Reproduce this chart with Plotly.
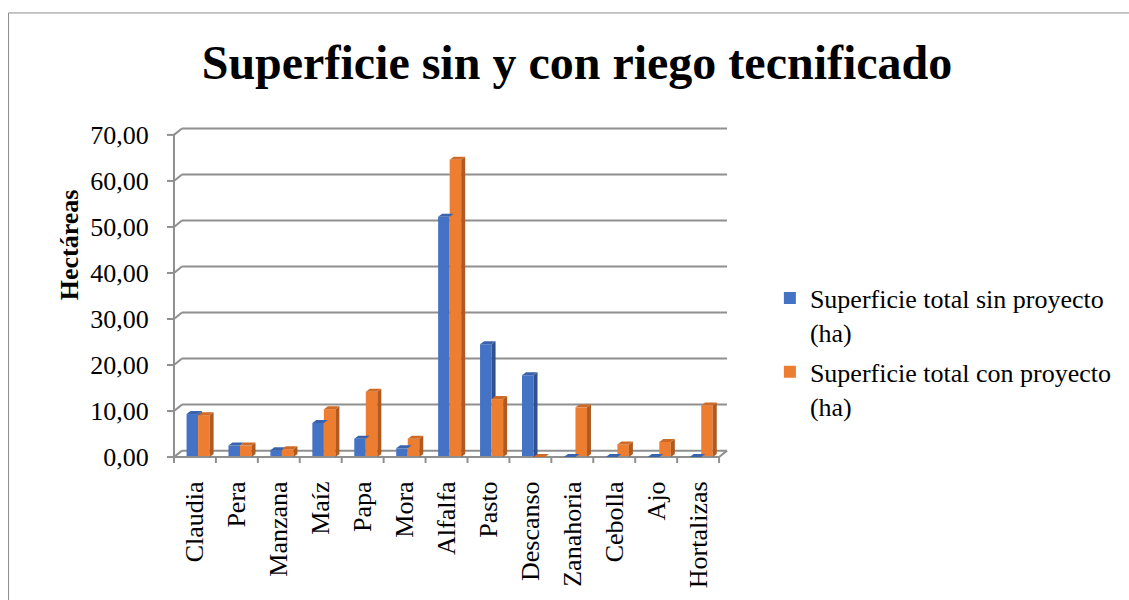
import plotly.graph_objects as go

# ---- data -------------------------------------------------------------
categories = ["Claudia", "Pera", "Manzana", "Maíz", "Papa", "Mora", "Alfalfa",
              "Pasto", "Descanso", "Zanahoria", "Cebolla", "Ajo", "Hortalizas"]
sin_proyecto = [9.35, 2.5, 1.5, 7.4, 4.0, 1.9, 52.2, 24.5, 17.8, 0.0, 0.0, 0.0, 0.0]
con_proyecto = [9.1, 2.5, 1.7, 10.4, 14.2, 4.0, 64.6, 12.6, 0.0, 10.8, 2.75, 3.3, 11.2]
series_names = ["Superficie total sin proyecto<br>(ha)",
                "Superficie total con proyecto<br>(ha)"]
y_tick_values = [0, 10, 20, 30, 40, 50, 60, 70]
y_tick_labels = ["0,00", "10,00", "20,00", "30,00", "40,00", "50,00", "60,00", "70,00"]
title_text = "Superficie sin y con riego tecnificado"
y_title = "Hectáreas"

# ---- geometry (pixels) -----------------------------------------------
W, H = 1129, 600
FONT = "Liberation Serif, Times New Roman, Tinos, serif"
L, R, T, B = 166, 389, 122, 132           # margins
X_FRONT_LEFT, X_FRONT_RIGHT = 174, 721     # px of category -0.5 / n-0.5
Y_ZERO, Y_TOP = 460, 135                   # px of 0 / 70 on the front plane
n = len(categories)
px_per_cat = (X_FRONT_RIGHT - X_FRONT_LEFT) / n
px_per_val = (Y_ZERO - Y_TOP) / y_tick_values[-1]
x_range = [-0.5 - (X_FRONT_LEFT - L) / px_per_cat,
           n - 0.5 + (W - R - X_FRONT_RIGHT) / px_per_cat]
y_range = [-(H - B - Y_ZERO) / px_per_val,
           y_tick_values[-1] + (Y_TOP - T) / px_per_val]

# wall depth and bar depth, in data units
DX, DY = 8 / px_per_cat, 6.5 / px_per_val
BDX, BDY = 4 / px_per_cat, 3 / px_per_val
BAR_W = 0.275
OFFS = [-0.2, 0.075]

GRID = "#8f8f8f"
FRONT = ["#4472C4", "#ED7D31"]
SIDE = ["#2F528F", "#AE5A21"]
TOP = ["#3A63AE", "#D06A27"]


def paper_x(px):
    return (px - L) / (W - L - R)


def paper_y(py):
    return (H - B - py) / (H - T - B)


fig = go.Figure()
xs = list(range(n))
for i, vals in enumerate([sin_proyecto, con_proyecto]):
    fig.add_trace(go.Bar(
        x=xs, y=vals, name=series_names[i], width=BAR_W, offset=OFFS[i],
        legendgroup=f"g{i}",
        marker=dict(color=FRONT[i], line=dict(width=0)),
        hoverinfo="y",
    ))

shapes = []


def line(x0, y0, x1, y1, width=2, color=GRID, layer="below"):
    shapes.append(dict(type="line", xref="x", yref="y", x0=x0, y0=y0, x1=x1, y1=y1,
                       line=dict(color=color, width=width), layer=layer))


# back-wall gridlines with their depth diagonals
for v in y_tick_values:
    line(-0.5, v, -0.5 + DX, v + DY)
    line(-0.5 + DX, v + DY, n - 0.5 + DX, v + DY)
    # tick marks on the front axis
    line(-0.5 - 7 / px_per_cat, v, -0.5, v, layer="above")
# front vertical axis
line(-0.5, 0, -0.5, y_tick_values[-1], layer="above")
# floor: front edge and right depth edge
line(-0.5, 0, n - 0.5, 0, layer="above")
line(n - 0.5, 0, n - 0.5 + DX, DY, layer="above")
# category boundary ticks
for k in range(n + 1):
    line(k - 0.5, 0, k - 0.5, -6 / px_per_val, layer="above")


def poly(pts, color):
    path = "M " + " L ".join(f"{x},{y}" for x, y in pts) + " Z"
    shapes.append(dict(type="path", xref="x", yref="y", path=path,
                       fillcolor=color, line=dict(width=0), layer="above"))


# 3D faces of the columns
for k in range(n):
    vb, vo = sin_proyecto[k], con_proyecto[k]
    # blue column: side visible only above the orange column beside it
    x0 = k + OFFS[0]
    x1 = x0 + BAR_W
    if vb > vo:
        poly([(x1, vo), (x1, vb), (x1 + BDX, vb + BDY), (x1 + BDX, vo)], SIDE[0])
    poly([(x0, vb), (x0 + BDX, vb + BDY), (x1 + BDX, vb + BDY), (x1, vb)], TOP[0])
    # orange column
    x0 = k + OFFS[1]
    x1 = x0 + BAR_W
    poly([(x1, 0), (x1, vo), (x1 + BDX, vo + BDY), (x1 + BDX, BDY)], SIDE[1])
    poly([(x0, vo), (x0 + BDX, vo + BDY), (x1 + BDX, vo + BDY), (x1, vo)], TOP[1])

# outer chart border
shapes.append(dict(type="rect", xref="paper", yref="paper",
                   x0=paper_x(8), y0=paper_y(640), x1=paper_x(1160), y1=paper_y(12),
                   line=dict(color="#8a8a8a", width=1), fillcolor="rgba(0,0,0,0)",
                   layer="below"))

fig.update_layout(
    width=W, height=H,
    margin=dict(l=L, r=R, t=T, b=B, pad=0),
    paper_bgcolor="white", plot_bgcolor="rgba(0,0,0,0)",
    font=dict(family=FONT, size=26, color="black"),
    title=dict(text=f"<b>{title_text}</b>", font=dict(family=FONT, size=48, color="black"),
               xref="container", yref="container", x=577 / W, y=1 - 62 / H,
               xanchor="center", yanchor="middle"),
    barmode="overlay",
    showlegend=True,
    legend=dict(x=paper_x(772), y=paper_y(276), xanchor="left", yanchor="top",
                font=dict(family=FONT, size=26, color="black"), valign="top",
                tracegroupgap=3, bgcolor="rgba(0,0,0,0)"),
    xaxis=dict(range=x_range, tickmode="array", tickvals=xs, ticktext=categories,
               tickangle=-90, ticks="outside", ticklen=5, tickcolor="rgba(0,0,0,0)",
               showgrid=False, zeroline=False, showline=False,
               tickfont=dict(family=FONT, size=26, color="black")),
    yaxis=dict(range=y_range, tickmode="array", tickvals=y_tick_values,
               ticktext=y_tick_labels, ticks="outside", ticklen=11,
               tickcolor="rgba(0,0,0,0)", showgrid=False, zeroline=False,
               showline=False, tickfont=dict(family=FONT, size=26, color="black")),
    shapes=shapes,
    annotations=[dict(text=f"<b>{y_title}</b>", xref="paper", yref="paper",
                      x=paper_x(70), y=paper_y(246), textangle=-90, showarrow=False,
                      xanchor="center", yanchor="middle",
                      font=dict(family=FONT, size=26, color="black"))],
)

fig.write_html("out.html")
